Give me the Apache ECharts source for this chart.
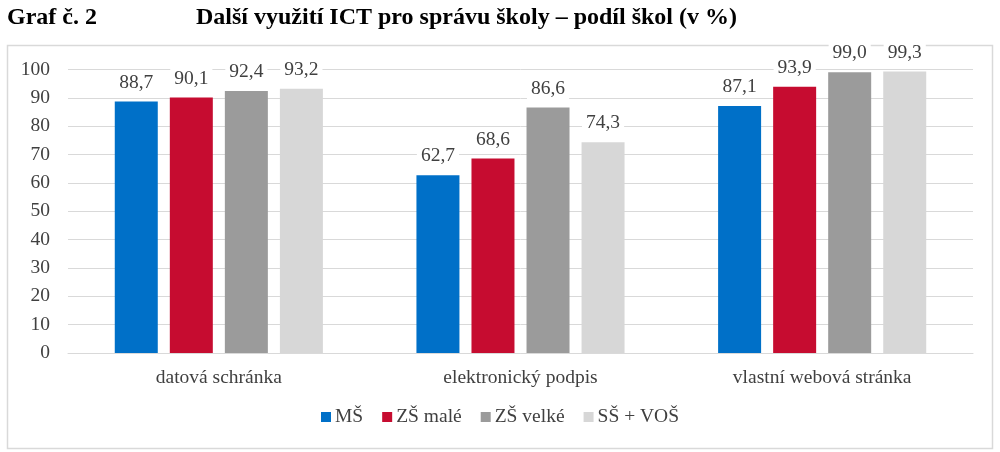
<!DOCTYPE html>
<html><head><meta charset="utf-8">
<script src="https://cdn.jsdelivr.net/npm/echarts@6/dist/echarts.min.js"></script>
<style>html,body{margin:0;padding:0;background:#fff}#c{width:1000px;height:452px}</style>
</head><body><div id="c"></div>
<script>
var categories = ['datová schránka', 'elektronický podpis', 'vlastní webová stránka'];
var seriesNames = ['MŠ', 'ZŠ malé', 'ZŠ velké', 'SŠ + VOŠ'];
var valuesMS = [88.7, 62.7, 87.1];
var valuesZSmale = [90.1, 68.6, 93.9];
var valuesZSvelke = [92.4, 86.6, 99.0];
var valuesSSVOS = [93.2, 74.3, 99.3];
var yTicks = [0, 100, 10];
var colors = ['#0070C8', '#C60C30', '#9B9B9B', '#D7D7D7'];
var serif = '"Liberation Serif", "Times New Roman", serif';
var allValues = [valuesMS, valuesZSmale, valuesZSvelke, valuesSSVOS];

var chart = echarts.init(document.getElementById('c'));
chart.setOption({
  animation: false,
  graphic: [
    {type: 'rect', shape: {x: 7.5, y: 45.5, width: 985, height: 403}, style: {fill: 'none', stroke: '#D9D9D9', lineWidth: 1.5}, z: -1},
    {type: 'text', left: 7, top: 6, style: {text: 'Graf č. 2', font: 'bold 24px ' + serif, fill: '#000'}},
    {type: 'text', left: 196, top: 6, style: {text: 'Další využití ICT pro správu školy – podíl škol (v %)', font: 'bold 24px ' + serif, fill: '#000'}}
  ],
  grid: {left: 68, right: 27, top: 69.5, bottom: 99, containLabel: false},
  legend: {
    bottom: 20, left: 'center', itemWidth: 10, itemHeight: 10, itemGap: 19,
    icon: 'rect',
    textStyle: {fontFamily: serif, fontSize: 19.5, color: '#404040', padding: [0, 0, 0, -1]},
    data: seriesNames
  },
  xAxis: {
    type: 'category', data: categories,
    axisLine: {lineStyle: {color: '#D9D9D9', width: 1}},
    axisTick: {show: false},
    axisLabel: {fontFamily: serif, fontSize: 19.5, color: '#404040', margin: 15}
  },
  yAxis: {
    type: 'value', min: yTicks[0], max: yTicks[1], interval: yTicks[2],
    axisLine: {show: false}, axisTick: {show: false},
    splitLine: {lineStyle: {color: '#D9D9D9', width: 1}},
    axisLabel: {fontFamily: serif, fontSize: 19.5, color: '#404040', margin: 18}
  },
  series: seriesNames.map(function (n, i) {
    return {
      name: n, type: 'bar', data: allValues[i],
      barWidth: 43, barGap: '28%',
      itemStyle: {color: colors[i]},
      label: {
        show: true, position: 'top', distance: 8,
        fontFamily: serif, fontSize: 19.5, color: '#404040',
        backgroundColor: '#fff', padding: [1, 4],
        formatter: function (p) { return p.value.toFixed(1).replace('.', ','); }
      }
    };
  })
});
</script></body></html>
